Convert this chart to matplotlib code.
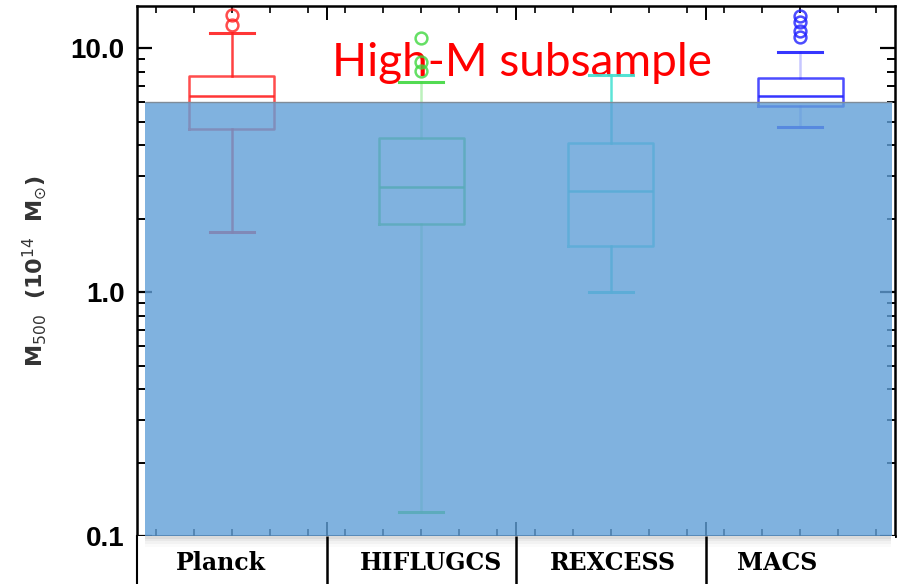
import matplotlib
matplotlib.use("Agg")
import matplotlib.pyplot as plt
from matplotlib.patches import Rectangle
from matplotlib.ticker import FixedLocator, NullFormatter, MultipleLocator

# cluster samples, M500 in units of 1e14 Msun
SURVEYS = ["Planck", "HIFLUGCS", "REXCESS", "MACS"]
WHIS_LO = [1.76, 0.125, 1.0, 4.74]
Q1 = [4.66, 1.90, 1.55, 5.78]
MEDIAN = [6.36, 2.69, 2.60, 6.36]
Q3 = [7.68, 4.28, 4.08, 7.54]
WHIS_HI = [11.5, 7.26, 7.74, 9.63]
FLIERS = [
    [12.4, 13.7],
    [8.1, 8.8, 11.0],
    [],
    [11.1, 11.8, 12.8, 13.6],
]
HIGH_M_CUT = 6.0

COLORS = ["#ff2020", "#3fd83f", "#40e0d0", "#2020ff"]
WHISKER_ALPHA = [0.85, 0.35, 0.85, 0.25]
LABEL_SHIFT = [-0.06, 0.05, 0.01, -0.12]

W, H = 899, 584
fig = plt.figure(figsize=(W / 100, H / 100), dpi=100)
ax = fig.add_axes([137 / W, 1 - 536 / H, 758 / W, 530 / H])

for i, name in enumerate(SURVEYS):
    stat = dict(label=name, whislo=WHIS_LO[i], q1=Q1[i], med=MEDIAN[i],
                q3=Q3[i], whishi=WHIS_HI[i], fliers=FLIERS[i])
    c = COLORS[i]
    ax.bxp([stat], positions=[i + 1], widths=0.45, capwidths=0.23,
           manage_ticks=False,
           boxprops=dict(color=c, lw=1.8, alpha=0.8),
           medianprops=dict(color=c, lw=1.8, alpha=0.9),
           whiskerprops=dict(color=c, lw=1.8, alpha=WHISKER_ALPHA[i]),
           capprops=dict(color=c, lw=2.2, alpha=0.9),
           flierprops=dict(marker="o", markerfacecolor="none",
                           markeredgecolor=c, markersize=8.5,
                           markeredgewidth=1.8, alpha=0.8))

ax.set_yscale("log")
ax.set_xlim(0.5, 4.5)
ax.set_ylim(0.1, 14.9)

ax.yaxis.set_major_locator(FixedLocator([0.1, 1.0, 10.0]))
ax.set_yticklabels(["0.1", "1.0", "10.0"], family="Liberation Sans",
                   fontweight="bold", fontsize=20)
ax.yaxis.set_minor_locator(FixedLocator(
    [m * d for d in (0.1, 1.0) for m in range(2, 10)] + [20]))
ax.yaxis.set_minor_formatter(NullFormatter())
ax.xaxis.set_major_locator(FixedLocator([1.5, 2.5, 3.5]))
ax.xaxis.set_minor_locator(MultipleLocator(0.2))
ax.set_xticklabels([])

ax.tick_params(axis="both", which="both", direction="in",
               top=True, right=True, color="black")
ax.tick_params(axis="y", which="major", length=11, width=1.6, pad=9)
ax.tick_params(axis="y", which="minor", length=6, width=1.4)
ax.tick_params(axis="x", which="major", length=10, width=1.4)
ax.tick_params(axis="x", which="minor", length=5, width=1.2)
for sp in ax.spines.values():
    sp.set_linewidth(1.8)

# shaded region below the high-mass cut
x0, x1 = 0.542, 4.484
ax.add_patch(Rectangle((x0, 0.1), x1 - x0, HIGH_M_CUT - 0.1,
                       facecolor="#609fd8", alpha=0.8, edgecolor="none",
                       zorder=3, clip_on=False))
ax.hlines(HIGH_M_CUT, x0, x1, color="#7f8c99", lw=1.0, zorder=3.1)

ax.text(2.53, 7.68, "High-M subsample", color="red", fontsize=33,
        family="Lato", ha="center", va="baseline", zorder=1.5)

fig.text(35 / W, 1 - 271 / H, r"M$_{500}$  (10$^{14}$  M$_{\odot}$)",
         rotation=90, ha="center", va="center", fontsize=16,
         color="#333333", fontweight="bold")

# sample names in a strip under the axis
tab = fig.add_axes([137 / W, 1 - 614 / H, 758 / W, 78 / H])
tab.set_xlim(0.5, 4.5)
tab.set_ylim(0, 1)
tab.set_xticks([])
tab.set_yticks([])
for side in ("top", "right", "bottom"):
    tab.spines[side].set_visible(False)
tab.spines["left"].set_linewidth(1.5)
tab.vlines([1.5, 2.5, 3.5], 0, 1, color="black", lw=1.8)
for k, a in enumerate([0.14, 0.09, 0.05, 0.02]):
    tab.axhspan(1 - (k + 1) * 0.035, 1 - k * 0.035, xmin=0.01, xmax=0.995,
                color="black", alpha=a, lw=0)
for i, name in enumerate(SURVEYS):
    tab.text(i + 1 + LABEL_SHIFT[i], 0.564, name, family="DejaVu Serif",
             fontweight="bold", fontsize=17, ha="center", va="baseline")

fig.savefig("out.png", dpi=100)
